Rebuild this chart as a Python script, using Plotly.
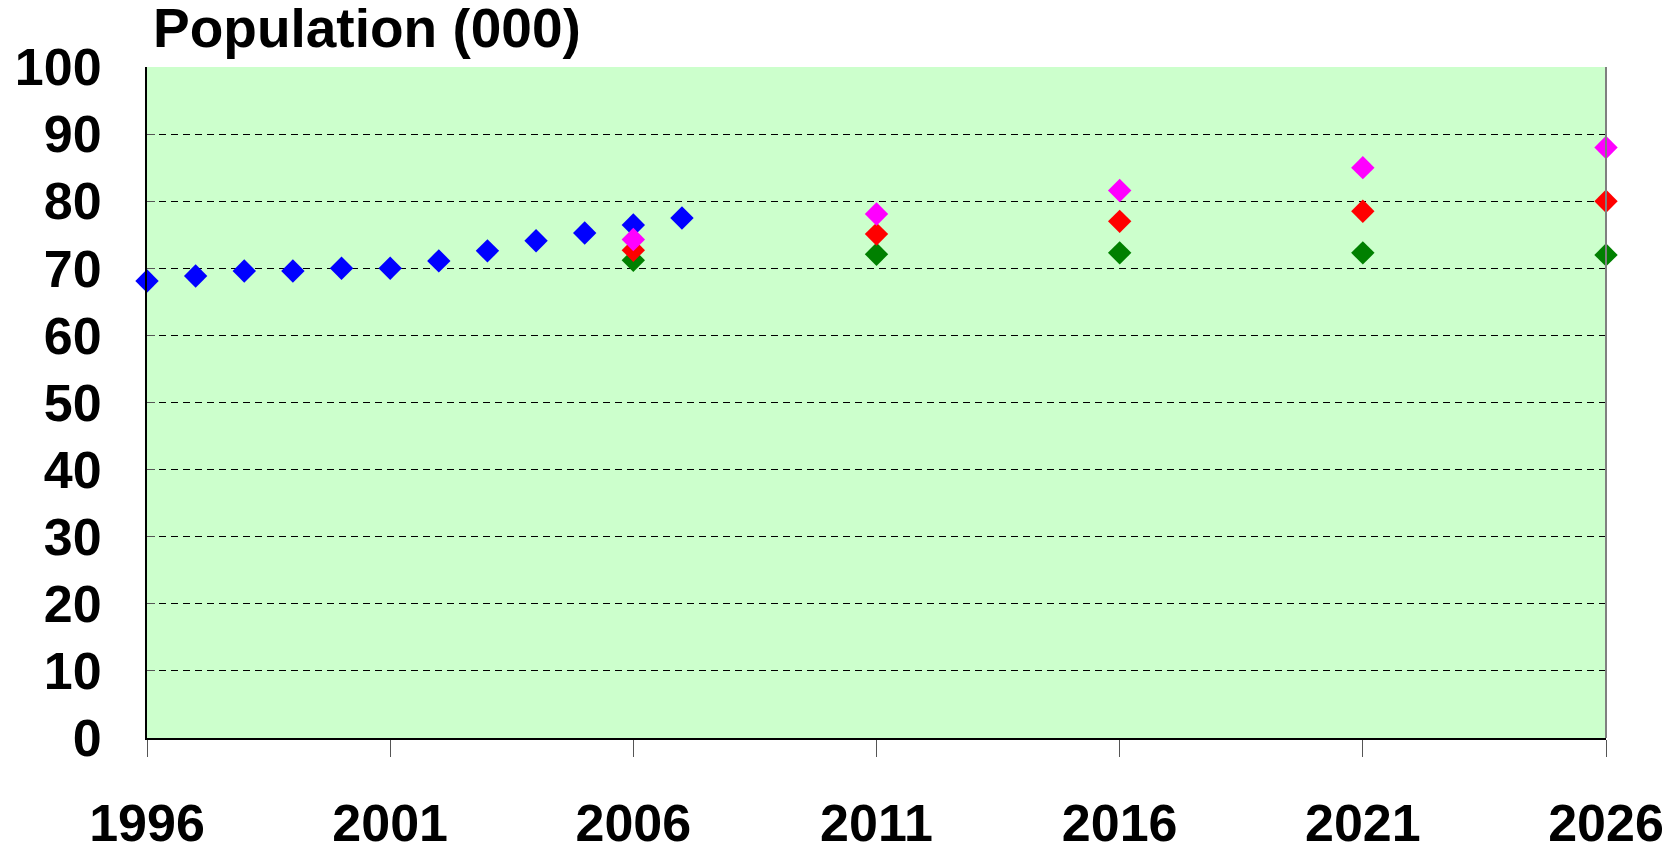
import plotly.graph_objects as go

# Observed population (000)
obs_years = [1996, 1997, 1998, 1999, 2000, 2001, 2002, 2003, 2004, 2005, 2006, 2007]
obs_values = [68.1, 68.85, 69.6, 69.6, 70.0, 70.0, 71.1, 72.6, 74.1, 75.25, 76.45, 77.5]

# Projections
proj_years = [2006, 2011, 2016, 2021, 2026]
high_values = [74.3, 78.1, 81.6, 85.0, 88.0]
mid_values = [72.7, 75.1, 77.0, 78.5, 80.0]
low_values = [71.2, 72.1, 72.3, 72.3, 72.0]

x_ticks = [1996, 2001, 2006, 2011, 2016, 2021, 2026]
y_ticks = [0, 10, 20, 30, 40, 50, 60, 70, 80, 90, 100]

FONT = "Liberation Sans, Arial, sans-serif"
MSIZE = 18

fig = go.Figure()
for xs, ys, col, name in [
    (obs_years, obs_values, "#0000FF", "Observed"),
    (proj_years, low_values, "#008000", "Low"),
    (proj_years, mid_values, "#FF0000", "Medium"),
    (proj_years, high_values, "#FF00FF", "High"),
]:
    fig.add_trace(go.Scatter(
        x=xs, y=ys, mode="markers", name=name,
        marker=dict(symbol="diamond", size=MSIZE, color=col, line=dict(width=0)),
        cliponaxis=False,
    ))

fig.update_layout(
    width=1666, height=838,
    margin=dict(l=139, r=68, t=59, b=108, autoexpand=False),
    paper_bgcolor="white",
    plot_bgcolor="#CCFFCC",
    showlegend=False,
    font=dict(family=FONT, color="black"),
    annotations=[dict(
        text="<b>Population (000)</b>", xref="paper", yref="paper",
        x=0.003, y=1.0, xanchor="left", yanchor="bottom", yshift=6,
        showarrow=False, font=dict(family=FONT, size=55, color="black"),
    )],
    shapes=[dict(type="line", xref="paper", yref="paper", x0=1, x1=1, y0=0, y1=1,
                 line=dict(color="#7F7F7F", width=2))],
)

fig.update_xaxes(
    range=[1996, 2026], tickvals=x_ticks, ticktext=[f"<b>{v}</b>" for v in x_ticks],
    showgrid=False, zeroline=False, automargin=False,
    showline=True, linecolor="black", linewidth=2,
    ticks="outside", ticklen=17, tickcolor="#555555", tickwidth=1,
    ticklabelstandoff=22,
    tickfont=dict(family=FONT, size=52, color="black"),
)
fig.update_yaxes(
    range=[0, 100], tickvals=y_ticks, ticktext=[f"<b>{v}</b>" for v in y_ticks],
    showgrid=True, gridcolor="black", gridwidth=1, griddash="7px,5px",
    zeroline=False, automargin=False,
    showline=True, linecolor="black", linewidth=2,
    ticks="inside", ticklen=8, tickcolor="#555555", tickwidth=1,
    ticklabelstandoff=33,
    tickfont=dict(family=FONT, size=52, color="black"),
)

fig.write_html("out.html")
